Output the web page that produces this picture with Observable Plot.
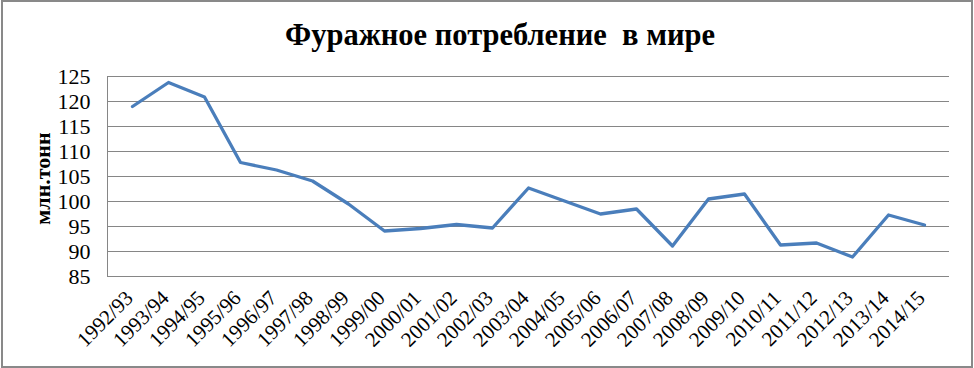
<!DOCTYPE html>
<html>
<head>
<meta charset="utf-8">
<script src="https://cdn.jsdelivr.net/npm/d3@7"></script>
<script src="https://cdn.jsdelivr.net/npm/@observablehq/plot@0.6"></script>
<style>
  html, body { margin: 0; padding: 0; background: #fff; }
  #wrap { position: relative; width: 974px; height: 368px; overflow: hidden; background: #fff; }
  #chart { position: absolute; left: 0; top: 0; }
  #title { position: absolute; left: 0; top: 15px; width: 1000px; text-align: center;
           font-family: 'Liberation Serif'; font-weight: bold; line-height: 40px;
           font-size: 30.5px; color: #000; white-space: pre; }
  #frame { position: absolute; left: 1px; top: 0; width: 972px; height: 368px;
           box-sizing: border-box; border: 2px solid #898989; pointer-events: none; }
  #chart svg, #chart svg text { font-family: 'Liberation Serif' !important; }
</style>
</head>
<body>
<div id="wrap">
  <div id="chart"></div>
  <div id="title">Фуражное потребление  в мире</div>
  <div id="frame"></div>
</div>
<script>
const seasons = ["1992/93","1993/94","1994/95","1995/96","1996/97","1997/98","1998/99","1999/00",
  "2000/01","2001/02","2002/03","2003/04","2004/05","2005/06","2006/07","2007/08","2008/09",
  "2009/10","2010/11","2011/12","2012/13","2013/14","2014/15"];
const values = [119.0, 123.8, 120.9, 107.8, 106.3, 104.1, 99.5, 94.1, 94.6, 95.4, 94.7, 102.7,
  100.1, 97.5, 98.5, 91.1, 100.5, 101.5, 91.3, 91.7, 88.9, 97.3, 95.3];
const yTicks = [85, 90, 95, 100, 105, 110, 115, 120, 125];
const yLabel = "млн.тонн";

const data = seasons.map((s, i) => ({season: s, value: values[i]}));

const chart = Plot.plot({
  width: 974,
  height: 368,
  marginLeft: 107,
  marginRight: 25,
  marginTop: 76,
  marginBottom: 92,
  style: {background: "transparent", fontFamily: "Liberation Serif", fontSize: "20px", color: "#000"},
  x: {type: "point", domain: seasons, padding: 0.5, align: 0.5, label: null},
  y: {domain: [85, 125], label: null},
  marks: [
    Plot.gridY(yTicks, {stroke: "#868686", strokeOpacity: 1, strokeWidth: 1}),
    Plot.frame({anchor: "left", stroke: "#868686", strokeWidth: 1}),
    Plot.axisY(yTicks, {tickSize: 0, tickPadding: 17, fontSize: 22, label: null}),
    Plot.axisX({tickSize: 0, tickRotate: -45, tickPadding: 10, fontSize: 21, label: null, dx: -3, dy: 8}),
    Plot.text([yLabel], {frameAnchor: "left", textAnchor: "middle", lineAnchor: "middle", dx: -65, dy: 2, rotate: -90, fontSize: 22, fontWeight: "bold"}),
    Plot.line(data, {x: "season", y: "value", stroke: "#4a7ebb", strokeWidth: 3.3, strokeLinejoin: "round"})
  ]
});
document.getElementById("chart").appendChild(chart);
</script>
</body>
</html>
